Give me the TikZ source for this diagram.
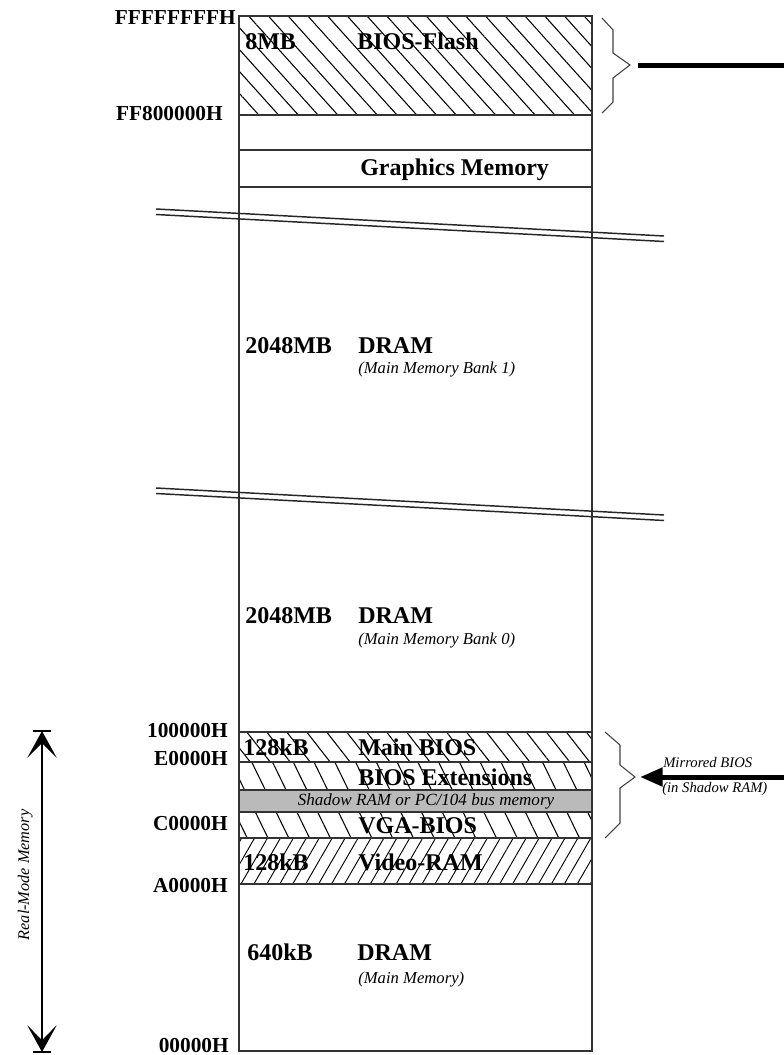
\documentclass[tikz,border=0pt]{standalone}
\usepackage{fontspec}
\setmainfont{Liberation Serif}
\usetikzlibrary{patterns.meta,arrows.meta}
\tikzset{
  lbl/.style={font=\fontsize{18}{20}\selectfont\bfseries, inner sep=0pt, anchor=base west},
  addr/.style={font=\fontsize{16}{18}\selectfont\bfseries, inner sep=0pt, anchor=base east},
  sub/.style={font=\fontsize{12.5}{14}\selectfont\itshape, inner sep=0pt, anchor=base west},
  note/.style={font=\fontsize{11}{13}\selectfont\itshape, inner sep=0pt, anchor=base west},
  border/.style={line width=1.1pt, draw=black!80},
  bracestyle/.style={line width=0.8pt, draw=black!75},
  breakline/.style={line width=1.1pt, draw=black!85},
}
\begin{document}
\begin{tikzpicture}[x=0.75pt,y=-0.75pt]
\useasboundingbox (0,0) rectangle (784,1055);
% hatched and filled regions
\path[pattern={Lines[angle=-48,distance=11pt,line width=0.8pt]}] (239,16) rectangle (592,115);
\path[pattern={Lines[angle=-52,distance=11.8pt,line width=0.8pt]}] (239,732) rectangle (592,762);
\path[pattern={Lines[angle=-64,distance=14pt,line width=0.8pt]}] (239,762) rectangle (592,790);
\path[fill=black!27] (239,790) rectangle (592,812);
\path[pattern={Lines[angle=-64,distance=14pt,line width=0.8pt]}] (239,812) rectangle (592,838);
\path[pattern={Lines[angle=60,distance=8.4pt,line width=0.7pt]}] (239,838) rectangle (592,884);
% column
\draw[border] (239,16) rectangle (592,1051);
\foreach \yy in {115,150,187,732,762,790,812,838,884}
  \draw[border] (239,\yy) -- (592,\yy);
% break lines
\draw[breakline] (156,209) -- (664,236);
\draw[breakline] (156,214.5) -- (664,241.5);
\draw[breakline] (156,488) -- (664,515);
\draw[breakline] (156,493.5) -- (664,520.5);
% address labels
\node[addr] (aF) at (236,25) {FFFFFFFFH};
\node[addr] (aFF8) at (223,121) {FF800000H};
\node[addr] (a100) at (228,737) {100000H};
\node[addr] (aE) at (228,765) {E0000H};
\node[addr] (aC) at (228,830) {C0000H};
\node[addr] (aA) at (228,892) {A0000H};
\node[addr] (a0) at (229,1052) {00000H};
% region labels
\node[lbl] (s8) at (245,50) {8MB};
\node[lbl] (nflash) at (357,50) {BIOS-Flash};
\node[lbl] (ngfx) at (360,176) {Graphics Memory};
\node[lbl] (s1) at (245,353) {2048MB};
\node[lbl] (n1) at (358,353) {DRAM};
\node[sub] (d1) at (358,373) {(Main Memory Bank 1)};
\node[lbl] (s0) at (245,623) {2048MB};
\node[lbl] (n0) at (358,623) {DRAM};
\node[sub] (d0) at (358,644) {(Main Memory Bank 0)};
\node[lbl] (smb) at (243,755) {128kB};
\node[lbl] (nmb) at (358,755) {Main BIOS};
\node[lbl] (next) at (358,785) {BIOS Extensions};
\node[font=\fontsize{12.8}{14}\selectfont\itshape, inner sep=0pt, anchor=base] (nshadow) at (426,805) {Shadow RAM or PC/104 bus memory};
\node[lbl] (nvga) at (358,833) {VGA-BIOS};
\node[lbl] (svr) at (243,870) {128kB};
\node[lbl] (nvr) at (358,870) {Video-RAM};
\node[lbl] (s640) at (247,960) {640kB};
\node[lbl] (n640) at (357,960) {DRAM};
\node[sub] (d640) at (358,983) {(Main Memory)};
% top brace
\coordinate (btip) at (630,65);
\coordinate (bline) at (638,66);
\coordinate (bend) at (784,66);
\draw[bracestyle] (602,18) -- (613,30) -- (613,53) -- (btip) -- (613,78) -- (613,102) -- (602,113);
\draw[line width=3.75pt] (bline) -- (bend);
% lower brace and arrow
\coordinate (ltip) at (635,777);
\coordinate (lhead) at (640,777);
\coordinate (lstart) at (784,777);
\draw[bracestyle] (605,732) -- (620,745) -- (620,765) -- (ltip) -- (620,788) -- (620,823) -- (605,838);
\draw[line width=3.75pt, -{Triangle[length=17pt,width=13.5pt]}] (lstart) -- (lhead);
\node[note] (mir1) at (663,767) {Mirrored BIOS};
\node[note] (mir2) at (662,792) {(in Shadow RAM)};
% real-mode memory arrow
\coordinate (rmtop) at (42,731);
\coordinate (rmbot) at (42,1052);
\draw[line width=1.5pt, {Stealth[length=20pt,width=22pt,inset=11pt]}-{Stealth[length=20pt,width=22pt,inset=11pt]}] (rmtop) -- (rmbot);
\draw[line width=1.5pt] (33,731) -- (51,731);
\draw[line width=1.5pt] (33,1052) -- (51,1052);
\node[font=\fontsize{12.2}{14}\selectfont\itshape, inner sep=0pt, rotate=90, anchor=base] (rm) at (29,875) {Real-Mode Memory};
\end{tikzpicture}
\end{document}
